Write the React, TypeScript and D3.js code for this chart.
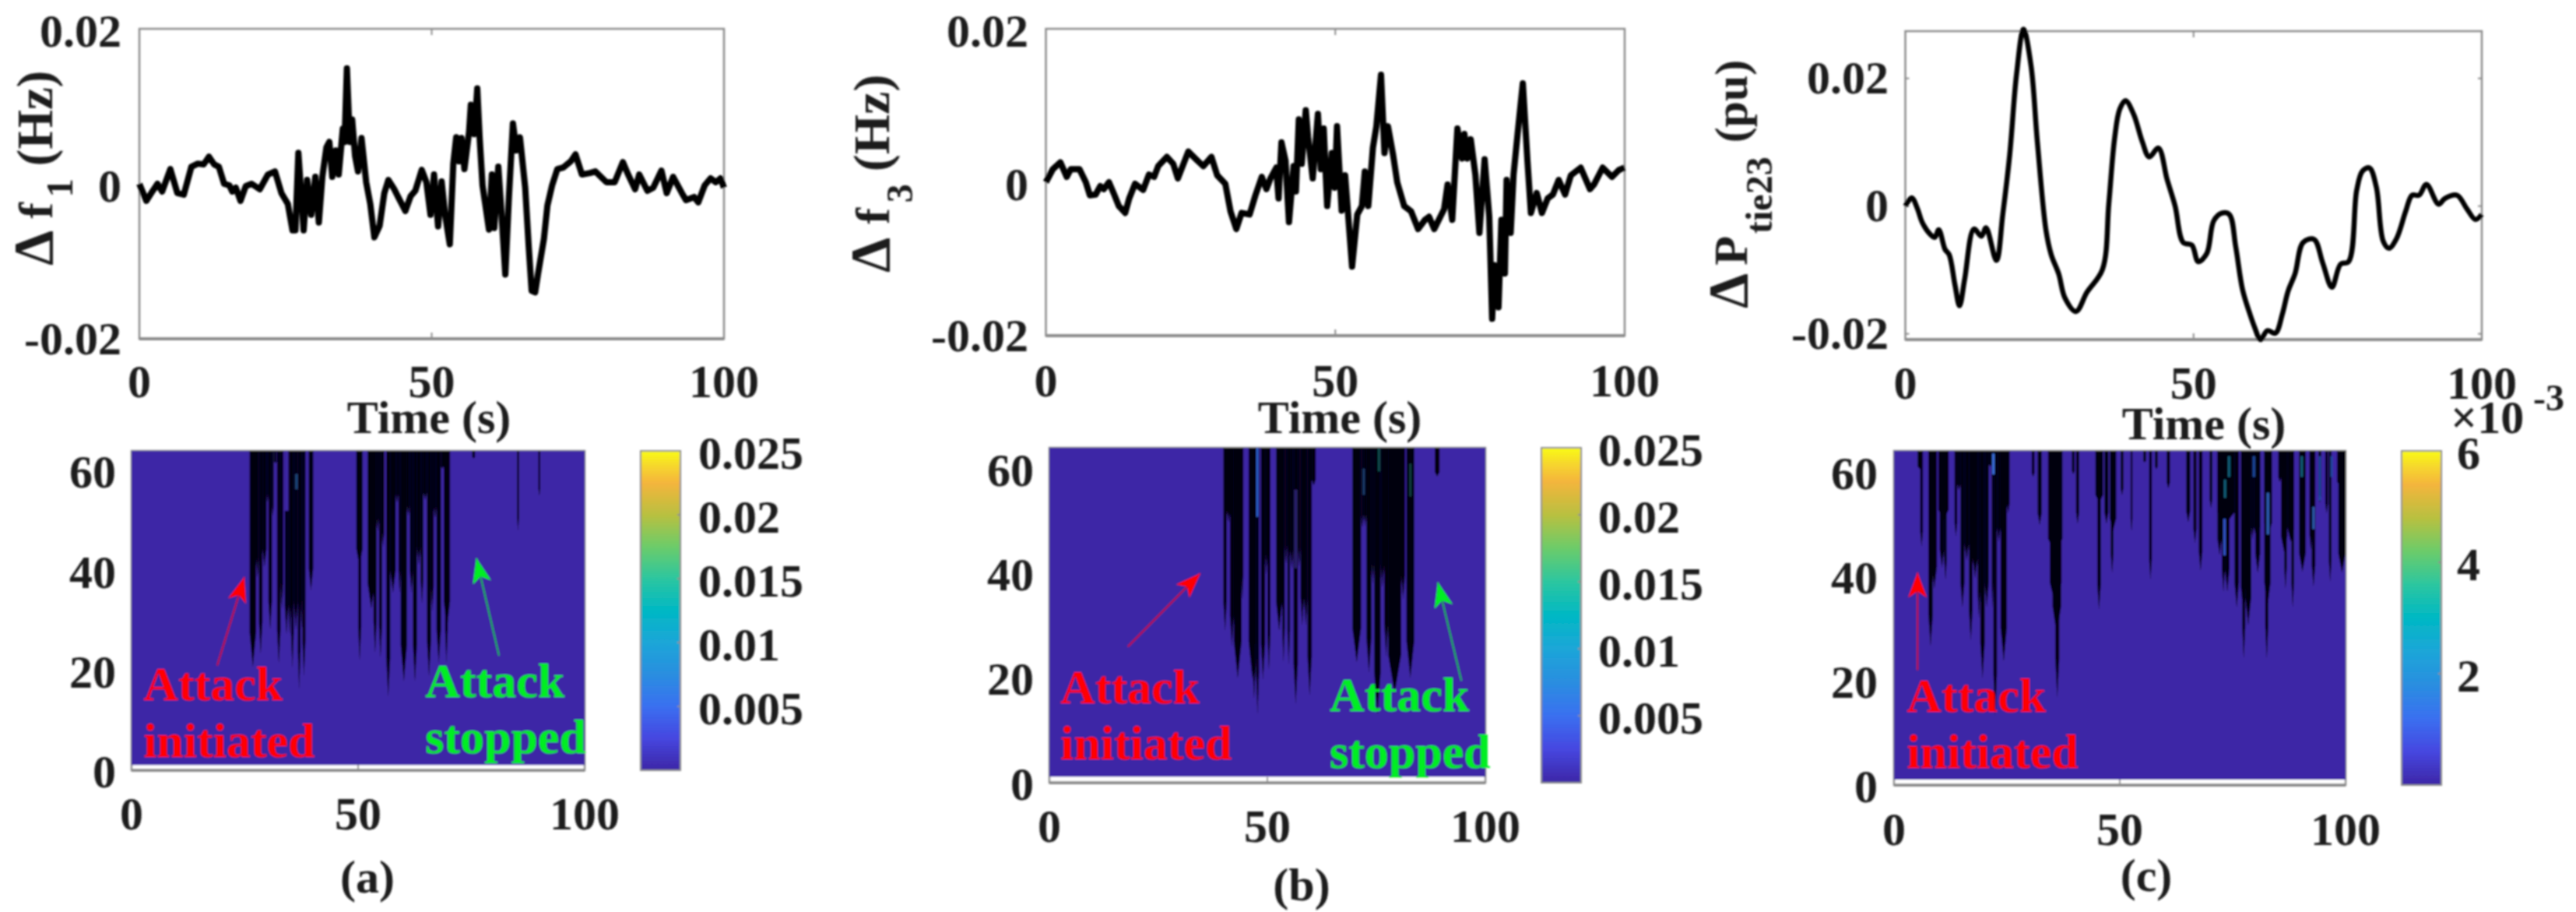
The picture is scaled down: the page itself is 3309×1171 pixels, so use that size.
import React from "react";
import * as d3 from "d3";

const tA = [0,1.2,2.3,3.1,3.9,5.3,6.5,7.6,8.9,10,11,11.9,12.8,13.6,14.5,15.4,15.9,16.5,17.3,18.2,19.2,20.6,22,23.2,24.3,25.4,26.2,26.7,27.2,28.1,28.7,29.4,30.1,30.7,31.3,32,32.5,33,33.6,34.1,34.8,35.1,35.5,36,36.4,36.9,37.4,38,38.8,39.5,40.2,41.1,41.9,42.6,43.6,44.4,45.5,46.4,47.2,48.3,49.1,49.8,50.4,51.1,51.7,52.3,53.1,53.7,54.2,54.7,55.1,55.6,56.4,56.7,57.3,57.8,58.2,58.7,59.8,60.3,60.7,61.4,61.9,62.6,63.2,63.9,64.5,65.1,66,66.6,67.1,67.7,68.2,69.2,69.8,70.6,71.5,72.5,73.8,74.6,75.7,77.1,78,79.9,81.3,82.7,83.6,84.8,85.5,86.9,87.9,89.3,90.2,91.3,92.8,93.5,94.9,95.6,96.7,97.7,98.6,99.4,100];
const vA = [0,-2.2,-0.9,0,-1,1.9,-1.2,-1.4,2.2,2.6,2.5,3.5,2.5,2.2,0,-0.2,-1,-0.5,-2.2,-0.3,0,-0.7,1.2,1.6,-1.2,-2.6,-6,-6,4,-6,0.5,-4,0.9,-5,0.9,4.7,5.4,0.9,4.3,1.2,7.1,5.4,14.9,5.4,8.3,3.6,1.6,5.9,0.2,-2.6,-6.9,-5.4,-1.2,0.5,-0.7,-1.9,-3.5,-1.6,-0.9,1.8,0.2,-4,1.2,-5.5,0.3,-4,-7.8,2.6,6,2.9,5.9,1.9,6.7,10.2,6.4,12.3,6,-0.2,-5.9,1.2,-5.7,2.2,-3.3,-11.7,-1.9,7.8,4.3,6,-0.5,-8.1,-13.8,-14,-11.6,-7.1,-2.8,-0.2,1.9,2.1,2.9,3.8,1.2,1.4,1.6,0.2,0.2,2.8,1.2,-0.7,1.2,-0.9,-0.5,1.7,-1.2,0.9,-1.2,-2.1,-1.7,-2.4,-0.2,0.7,0.2,0.7,-0.5];

const tB = [0,1.2,2.5,3.6,4.3,5.8,6.9,7.6,8.6,9.4,10,10.9,11.8,12.6,13.7,14.4,15.4,16.8,17.8,18.7,19.4,20.9,22,22.8,24.6,26.2,27.2,28.6,29.6,31,31.9,32.9,33.8,35.2,36.2,37.3,38.1,38.8,39.8,40.2,40.7,41.4,42,42.8,43.2,43.7,44.2,44.9,45.3,46.1,47,47.5,48,48.6,49.4,49.9,50.3,51.1,51.7,52.9,53.8,54.6,55.1,55.7,56.5,57.1,57.9,58.5,59.1,60,60.7,61.9,63.1,64.3,65.5,66.2,67.1,68.8,69.4,70.2,71.1,71.9,72.3,72.8,73.4,74.2,74.9,75.8,76.6,77.1,77.5,78.2,78.7,79.3,79.6,80.3,80.8,81.5,82.4,83.2,83.8,84.8,85.7,86.7,87.6,88.6,89.7,90.7,92.4,94,94.7,96.2,97.8,99,100];
const vB = [0,1.7,2.6,0.7,1.7,1.7,0,-1.7,-1.6,-0.5,-0.9,0,-1.6,-3.1,-4,-2.1,-0.2,-1,1,0.7,2.1,3.3,2.4,0.5,4,2.8,2.1,3.3,0.9,-0.2,-3.8,-6.1,-4,-4.2,-1.7,0.7,-0.9,0.5,1.9,-2.1,5.2,2.8,-5.2,2.1,-1.2,8.2,2.4,9.4,5.9,0.5,8.9,1.7,7,-3.1,3.8,-0.7,7.3,-3.7,0.9,-11,-4.2,-3.1,1.4,-3.1,4.5,7.3,14,3.8,7.3,3.5,0,-3.1,-3.8,-6.1,-4.9,-4.5,-6.1,-3.5,-0.3,-4.9,7,3.1,6.3,3.1,5.6,1,-6.6,3,-4.5,-17.8,-10.8,-16.3,-4.9,-11.9,0.3,-6.6,1,6.3,12.9,2.8,-4,-1.4,-4,-2.1,-1.6,0.3,-1.6,0.9,1.9,-0.9,-0.3,1.9,0.7,1.6,1.9];

const tC = [0,1.1,2.1,2.9,4.3,5.1,5.8,6.9,7.6,8.6,9.4,10.3,11.9,13.2,14,15.8,16.9,18.1,19.3,20.5,21.8,22.9,24.4,25.3,26.6,27.7,29.6,31.5,34.2,35.3,36.3,37.2,38.2,39.6,41.1,42.3,43.9,45.4,46.8,48.2,49.7,50.8,52.3,53.5,54.9,56.2,57.3,58.5,59.7,60.6,61.6,62.8,64.2,65.4,66.4,67.6,69,70.9,72.4,74,75.5,76.9,78.3,79.3,80.5,81.7,82.9,83.9,85.2,86.8,87.9,89.1,90.4,92.5,93.6,95.7,97.4,98.9,100];
const vC = [0,1.3,-0.4,-2.5,-4.4,-4.9,-3.7,-6.8,-7.6,-12.3,-15.6,-11.4,-3.6,-4.7,-3.4,-8.5,-1.3,8,20.7,27.7,22,10.1,-3.8,-7.6,-10.6,-14.4,-16.5,-13.5,-9.9,0.4,10.6,15.2,16.5,14.4,10.1,7.7,9.1,4.2,0,-5.7,-6.1,-8.7,-7.4,-2.3,-1.1,-1.3,-6.3,-13.1,-16.7,-19,-20.9,-19.5,-19.9,-16.9,-13.3,-10.6,-5.7,-5.2,-8.9,-12.7,-9.1,-8.7,2.5,5.5,6,3,-5.5,-6.6,-5.1,-0.8,1.7,1.7,3.4,0.3,1.2,1.7,-0.4,-2.1,-1.3];

// Black (off-scale) columns of each spectrogram: first time, last time, lowest scale value
const colStartA = [26.05,27.5,28.1,28.9,29.8,30.2,31,31.5,32.1,32.9,33.8,34.6,35.2,35.8,36.7,37.3,37.7,39.1,49.6,50,52.1,53.4,54.1,54.6,55.3,56.2,57.1,58.3,58.9,59.4,60.8,61.4,62.1,63,63.8,64.4,65.2,66.1,66.7,67.3,68.3,68.9,69.2,75.2,85.1,89.8];
const colEndA = [27.5,28.1,28.9,29.8,30.2,31,31.4,32,32.9,33.5,34.6,35.2,35.8,36.7,37.3,37.7,38.4,40.1,51,50.7,53.7,54.1,54.6,55.3,55.8,57.1,58.3,58.9,59.4,60.8,61.4,62.1,63,63.8,64.4,65.2,66.1,66.7,67.3,68.3,68.9,70.3,69.8,75.8,85.5,90.2];
const colFloorA = [20.7,38.6,23.3,40.7,53.7,28.2,51,61.5,21.4,32.4,27.2,27.2,20.4,28.2,16.2,28.2,18.8,36,40.7,22,32.4,23.5,48,22.5,44.8,14.7,35.5,53.7,35.5,17.8,51,35.5,17.8,41.2,33.4,54.2,18.8,31.8,50.6,21.4,60.4,28.2,21.4,62.5,48,55];

const colStartB = [39.9,40.7,41.4,42.3,44.1,45.7,46.5,47.4,48.5,49.5,50,52,53.4,54,54.6,55.2,56,57,57.6,58.4,59.2,60.2,69.5,71.5,72.1,72.7,73.9,74.5,76,76.8,77.7,80.7,81.9,88.4];
const colEndB = [40.7,41.5,42.3,44.1,44.5,47.4,47.4,48.1,49.5,50,50.7,53.4,54,54.6,55.2,56,57,57.6,58.4,59.2,60.2,61.1,71.5,72.1,72.7,73.9,74.5,76,76.8,77.7,80.7,81.6,83.7,89.5];
const colFloorB = [29,49.8,26,20,35,20,16,13,19.6,39.9,21.5,29,23,41.9,22.5,40.9,15,41.4,30,30,16.6,56.8,23,48.8,49,21,38,13,37.4,24,17,35,20,58.5];

const colStartC = [5.2,5.8,7.6,8.4,9.8,10.1,11.1,13.4,14,14.7,15.6,16.6,17.4,18.5,19.1,20.1,21,21.6,22,22.8,23.6,25,30.5,31.8,34.1,34.5,35.1,35.7,39.4,40.3,44.6,45,46.6,47.8,48,50.2,52.4,55.2,56.5,57.8,60.4,64.7,66.3,67.5,69.9,71.6,71.6,72.6,73.3,75.4,76.8,77.1,77.8,79.1,79.7,80,82,82,82.2,85.1,85.7,86.4,87.1,88,89.7,92,92.5,94,95.5,96.3,98.1,98.4];
const colEndC = [6.3,6.4,8.6,9.5,12.1,11.1,11.7,14,14.7,15.6,16.6,17.4,18.5,19.1,20.1,21,21.6,22,22.8,23.6,25,25.6,31.1,32.7,37.3,37.1,37,36.6,40,41,46.3,45.8,47.5,49.2,48.6,50.8,52.8,55.8,57.1,58.4,61.1,65.6,67,68.3,70.5,72.6,75.4,73.3,74.3,76.4,77.9,77.8,79.1,79.7,81.1,81.1,83.4,83.7,82.9,85.7,87.1,87,88.6,88.6,91.2,92.6,93.3,94.6,96.1,96.9,100,100];
const colFloorC = [60.5,45.6,26.6,37.6,50.6,41.6,39.3,47.6,56.5,34,43,27.6,39.6,32,20.4,34,61,34,13.2,46.6,23.7,52,59,49.8,44,34,28.6,16.7,59.5,50,54,33.6,50,48.6,40.6,55.5,48.6,61.8,39.3,60.5,56.8,50.3,46.3,41,53,44,50,37,37,34,33.1,24.2,30.6,47,46.6,40.6,34,47.6,24.2,58,44.6,37.6,46.6,34,40.8,45,38,54,52,38.9,57,40.6];

// Thin streaks inside the black: time, width, scale value at top and bottom, colour
const streakTimesA = [34.2, 36.4];
const streakWidthsA = [0.8, 0.5];
const streakTopsA = [64, 59.4];
const streakBottomsA = [52, 56.3];
const streakColorsA = ["#3d26a6", "#1f4a80"];

const streakTimesB = [47.7, 72.1, 75.6, 82.8, 56.5];
const streakWidthsB = [0.45, 0.45, 0.4, 0.45, 0.6];
const streakTopsB = [64, 60, 64, 61, 56];
const streakBottomsB = [50.8, 55, 59.5, 54.7, 41];
const streakColorsB = ["#2f64d8", "#1e3e70", "#0e5a5a", "#0d4040", "#2a2070"];

const streakTimesC = [22, 73.2, 82.8, 92.9, 74.2, 90.3, 94.3, 79.7, 73.3, 96.9];
const streakWidthsC = [0.5, 0.55, 0.55, 0.5, 0.5, 0.5, 0.5, 0.5, 0.5, 0.5];
const streakTopsC = [63.5, 51, 56, 53.3, 63, 63, 63, 63, 58.5, 63];
const streakBottomsC = [59.5, 44, 48, 49, 59, 59, 54.5, 59, 55, 59];
const streakColorsC = ["#3a6fe0", "#2f50c0", "#2f60b8", "#2e5fb0", "#14607a", "#14607a", "#1d4aa0", "#1d4aa0", "#14607a", "#1d4aa0"];

const parulaStops = [0, 0.1, 0.2, 0.3, 0.4, 0.5, 0.6, 0.7, 0.8, 0.9, 0.95, 1];
const parulaColors = ["#3d26a6","#4647e0","#3a70f0","#2a8ee0","#1ca6d8","#00b8c4","#2cc6a0","#6ccc6a","#b9c040","#f4b53c","#f6d52e","#f9fb15"];

const timeTicks = [0, 50, 100];
const lineTicks = [20, 0, -20];
const lineTickLabels = ["0.02", "0", "-0.02"];
const specTicks = [0, 20, 40, 60];
const barTicks = [0.005, 0.01, 0.015, 0.02, 0.025];
const barTickLabels = ["0.005", "0.01", "0.015", "0.02", "0.025"];
const barTicksC = [2, 4, 6];
const barTickLabelsC = ["2", "4", "6"];

const SERIF = "'Liberation Serif', serif";
const FS = 60;
const BOX = "#8c8c8c";
const PLUM = "#3d26a6";

const linePanels = [
  { t: tA, v: vA, x: [179, 930], y: [37, 435], dom: [-20, 20], ticks: lineTicks, labels: lineTickLabels, sw: 8, labelRight: 156, tickBase: 510, timeX: 551, timeBase: 556, smooth: false,
    yl: { x: 67, bottom: 341, parts: ["Δ", "f"], gap: 15, sub: "1", subDy: 26, subGap: 7, unit: "(Hz)", unitGap: 16, unitSize: 65 } },
  { t: tB, v: vB, x: [1343.5, 2087], y: [37, 431], dom: [-20, 20], ticks: lineTicks, labels: lineTickLabels, sw: 8, labelRight: 1321, tickBase: 509, timeX: 1721, timeBase: 556, smooth: false,
    yl: { x: 1142, bottom: 350, parts: ["Δ", "f"], gap: 17, sub: "3", subDy: 30, subGap: 7, unit: "(Hz)", unitGap: 16, unitSize: 66 } },
  { t: tC, v: vC, x: [2447.5, 3188], y: [40, 436], dom: [-20.9, 27.4], ticks: lineTicks, labels: lineTickLabels, sw: 6.5, labelRight: 2426, tickBase: 512, timeX: 2831, timeBase: 564, smooth: true,
    yl: { x: 2244, bottom: 396, parts: ["Δ", "P"], gap: 10, sub: "tie23", subDy: 32, subGap: 3, unit: "(pu)", unitGap: 18, unitSize: 60 } },
];

const specPanels = [
  { cS: colStartA, cE: colEndA, cF: colFloorA, sT: streakTimesA, sW: streakWidthsA, sTop: streakTopsA, sBot: streakBottomsA, sC: streakColorsA, x: [169, 751], y: [579, 989], plumBase: 1.05, labelRight: 149, tickBase: 1065,
    bar: [823, 874], barLabelX: 897, barDom: [0, 0.025], barTicks, barLabels: barTickLabels, tag: "(a)", tagX: 472, tagBase: 1146,
    red: { from: [18.9, 21], to: [24.9, 38.7], tx: 2.6, y1: 14, y2: 2.7 },
    green: { from: [81.1, 23], to: [76.1, 42.5], tx: 64.8, y1: 14.7, y2: 3.4 } },
  { cS: colStartB, cE: colEndB, cF: colFloorB, sT: streakTimesB, sW: streakWidthsB, sTop: streakTopsB, sBot: streakBottomsB, sC: streakColorsB, x: [1348, 1908], y: [575, 1005], plumBase: 1.15, labelRight: 1328, tickBase: 1081,
    bar: [1980, 2031], barLabelX: 2053, barDom: [0, 0.025], barTicks, barLabels: barTickLabels, tag: "(b)", tagX: 1672, tagBase: 1156,
    red: { from: [18, 26], to: [34.6, 40], tx: 2.5, y1: 15.2, y2: 4.5 },
    green: { from: [94.5, 19.5], to: [89.1, 38.3], tx: 64.3, y1: 13.7, y2: 2.8 } },
  { cS: colStartC, cE: colEndC, cF: colFloorC, sT: streakTimesC, sW: streakWidthsC, sTop: streakTopsC, sBot: streakBottomsC, sC: streakColorsC, x: [2433, 3013], y: [579, 1008], plumBase: 1.05, labelRight: 2412, tickBase: 1085,
    bar: [3085, 3136], barLabelX: 3156, barDom: [0, 6], barTicks: barTicksC, barLabels: barTickLabelsC, tag: "(c)", tagX: 2757, tagBase: 1144,
    red: { from: [5.2, 22], to: [5.2, 40.7], tx: 2.8, y1: 14, y2: 3.3 },
    green: null },
];

function arrowPath(x1: number, y1: number, x2: number, y2: number) {
  const a = Math.atan2(y2 - y1, x2 - x1);
  const L = 32, W = 12, N = 24;
  const ux = Math.cos(a), uy = Math.sin(a);
  const bx = x2 - L * ux, by = y2 - L * uy;
  const nx = x2 - N * ux, ny = y2 - N * uy;
  return `M${x2},${y2}L${bx - W * uy},${by + W * ux}L${nx},${ny}L${bx + W * uy},${by - W * ux}Z`;
}

function LinePanel({ p }: { p: any }) {
  const x = d3.scaleLinear().domain([0, 100]).range(p.x);
  const y = d3.scaleLinear().domain(p.dom).range([p.y[1], p.y[0]]);
  const line = d3.line<number>().x((_, i) => x(p.t[i])).y((d) => y(d));
  if (p.smooth) line.curve(d3.curveCatmullRom);
  const w = p.x[1] - p.x[0], h = p.y[1] - p.y[0];
  const l = p.yl;
  return (
    <g>
      <rect x={p.x[0]} y={p.y[0]} width={w} height={h} fill="none" stroke={BOX} strokeWidth={2.5} />
      <line x1={p.x[0]} x2={p.x[1]} y1={p.y[1]} y2={p.y[1]} stroke={BOX} strokeWidth={4} />
      {timeTicks.slice(1, 2).map((t) => (
        <g key={t} stroke={BOX} strokeWidth={2}>
          <line x1={x(t)} x2={x(t)} y1={p.y[0]} y2={p.y[0] + 8} />
          <line x1={x(t)} x2={x(t)} y1={p.y[1]} y2={p.y[1] - 8} />
        </g>
      ))}
      {p.smooth && p.ticks.map((t: number) => (
        <g key={t} stroke={BOX} strokeWidth={2}>
          <line x1={p.x[0]} x2={p.x[0] + 5} y1={y(t)} y2={y(t)} />
          <line x1={p.x[1]} x2={p.x[1] - 5} y1={y(t)} y2={y(t)} />
        </g>
      ))}
      <path d={line(p.v) as string} fill="none" stroke="#000" strokeWidth={p.sw} strokeLinejoin="round" />
      {timeTicks.map((t) => (
        <text key={t} x={x(t)} y={p.tickBase} textAnchor="middle" fontSize={FS}>{t}</text>
      ))}
      {p.ticks.map((t: number, i: number) => {
        const off = p.smooth ? 0 : (i === 2 ? 0 : 3);
        return <text key={t} x={p.labelRight} y={y(t) + off} dy="0.33em" textAnchor="end" fontSize={FS}>{p.labels[i]}</text>;
      })}
      <text x={p.timeX} y={p.timeBase} textAnchor="middle" fontSize={FS}>Time (s)</text>
      <text transform={`translate(${l.x},${l.bottom}) rotate(-90)`} fontSize={62}>
        <tspan fontSize={72}>{l.parts[0]}</tspan>
        <tspan dx={l.gap}>{l.parts[1]}</tspan>
        <tspan dx={l.subGap} dy={l.subDy} fontSize={48}>{l.sub}</tspan>
        <tspan dx={l.unitGap} dy={-l.subDy} fontSize={l.unitSize}>{l.unit}</tspan>
      </text>
    </g>
  );
}

function SpecPanel({ p, id }: { p: any; id: string }) {
  const x = d3.scaleLinear().domain([0, 100]).range(p.x);
  const y = d3.scaleLinear().domain([0, 64]).range([p.y[1], p.y[0]]);
  const bar = d3.scaleLinear().domain(p.barDom).range([p.y[1], p.y[0]]);
  const w = p.x[1] - p.x[0];
  const column = d3.line<[number, number]>().x((d) => x(d[0])).y((d) => y(d[1]));
  const annot = (a: any, color: string, l1: string, l2: string) => {
    const [x1, y1, x2, y2] = [x(a.from[0]), y(a.from[1]), x(a.to[0]), y(a.to[1])];
    return (
      <g fill={color}>
        <line x1={x1} y1={y1} x2={x2} y2={y2} stroke={color} strokeWidth={2} opacity={0.7} />
        <path d={arrowPath(x1, y1, x2, y2)} />
        <text x={x(a.tx)} y={y(a.y1)} fontSize={62}>{l1}</text>
        <text x={x(a.tx)} y={y(a.y2)} fontSize={62}>{l2}</text>
      </g>
    );
  };
  return (
    <g>
      <rect x={p.x[0]} y={p.y[0]} width={w} height={p.y[1] - p.y[0]} fill="#fff" stroke={BOX} strokeWidth={2.5} />
      <rect x={p.x[0]} y={p.y[0]} width={w} height={y(p.plumBase) - p.y[0]} fill={PLUM} />
      <line x1={p.x[0]} x2={p.x[1]} y1={p.y[1]} y2={p.y[1]} stroke={BOX} strokeWidth={4} />
      <line x1={x(50)} x2={x(50)} y1={p.y[1]} y2={p.y[1] - 7} stroke={BOX} strokeWidth={2} />
      {p.cF.map((f: number, i: number) => {
        const a = p.cS[i], b = p.cE[i];
        const shoulder = f + (64 - f) * 0.16;
        const pts: [number, number][] = [[a, 64], [a, shoulder], [(a + b) / 2, f], [b, shoulder], [b, 64]];
        return <path key={i} d={(column(pts) as string) + "Z"} fill="#05040e" />;
      })}
      {p.sT.map((t: number, i: number) => (
        <rect key={i} x={x(t - p.sW[i] / 2)} width={x(p.sW[i]) - x(0)} y={y(p.sTop[i])} height={y(p.sBot[i]) - y(p.sTop[i])} fill={p.sC[i]} />
      ))}
      {annot(p.red, "#ff0000", "Attack", "initiated")}
      {p.green && annot(p.green, "#00ee22", "Attack", "stopped")}
      <rect x={p.bar[0]} y={p.y[0]} width={p.bar[1] - p.bar[0]} height={p.y[1] - p.y[0]} fill={`url(#${id})`} stroke={BOX} strokeWidth={2} />
      {p.barTicks.map((t: number, i: number) => (
        <g key={t}>
          <line x1={p.bar[1]} x2={p.bar[1] - 4} y1={bar(t)} y2={bar(t)} stroke={BOX} strokeWidth={2} />
          <text x={p.barLabelX} y={bar(t) + 3} dy="0.33em" fontSize={FS}>{p.barLabels[i]}</text>
        </g>
      ))}
      {timeTicks.map((t) => (
        <text key={t} x={x(t)} y={p.tickBase} textAnchor="middle" fontSize={FS}>{t}</text>
      ))}
      {specTicks.map((t) => (
        <text key={t} x={p.labelRight} y={y(t) + 2} dy="0.33em" textAnchor="end" fontSize={FS}>{t}</text>
      ))}
      <text x={p.tagX} y={p.tagBase} textAnchor="middle" fontSize={FS}>{p.tag}</text>
    </g>
  );
}

export default function App() {
  return (
    <svg width={3309} height={1171} viewBox="0 0 3309 1171" style={{ position: "absolute", left: 0, top: 0, display: "block", background: "#fff" }}>
      <defs>
        <filter id="soft" filterUnits="userSpaceOnUse" x={0} y={0} width={3309} height={1171}>
          <feGaussianBlur stdDeviation={0.9} />
        </filter>
        {["cb0", "cb1", "cb2"].map((id) => (
          <linearGradient key={id} id={id} x1={0} y1={1} x2={0} y2={0}>
            {parulaStops.map((s, i) => <stop key={s} offset={s} stopColor={parulaColors[i]} />)}
          </linearGradient>
        ))}
      </defs>
      <g filter="url(#soft)" fontFamily={SERIF} fontWeight="bold" fill="#1c1c1c">
        {linePanels.map((p, i) => <LinePanel key={i} p={p} />)}
        {specPanels.map((p, i) => <SpecPanel key={i} p={p} id={`cb${i}`} />)}
        <text x={3148} y={556} fontSize={FS}>×10</text>
        <text x={3254} y={527} fontSize={48}>-3</text>
      </g>
    </svg>
  );
}
